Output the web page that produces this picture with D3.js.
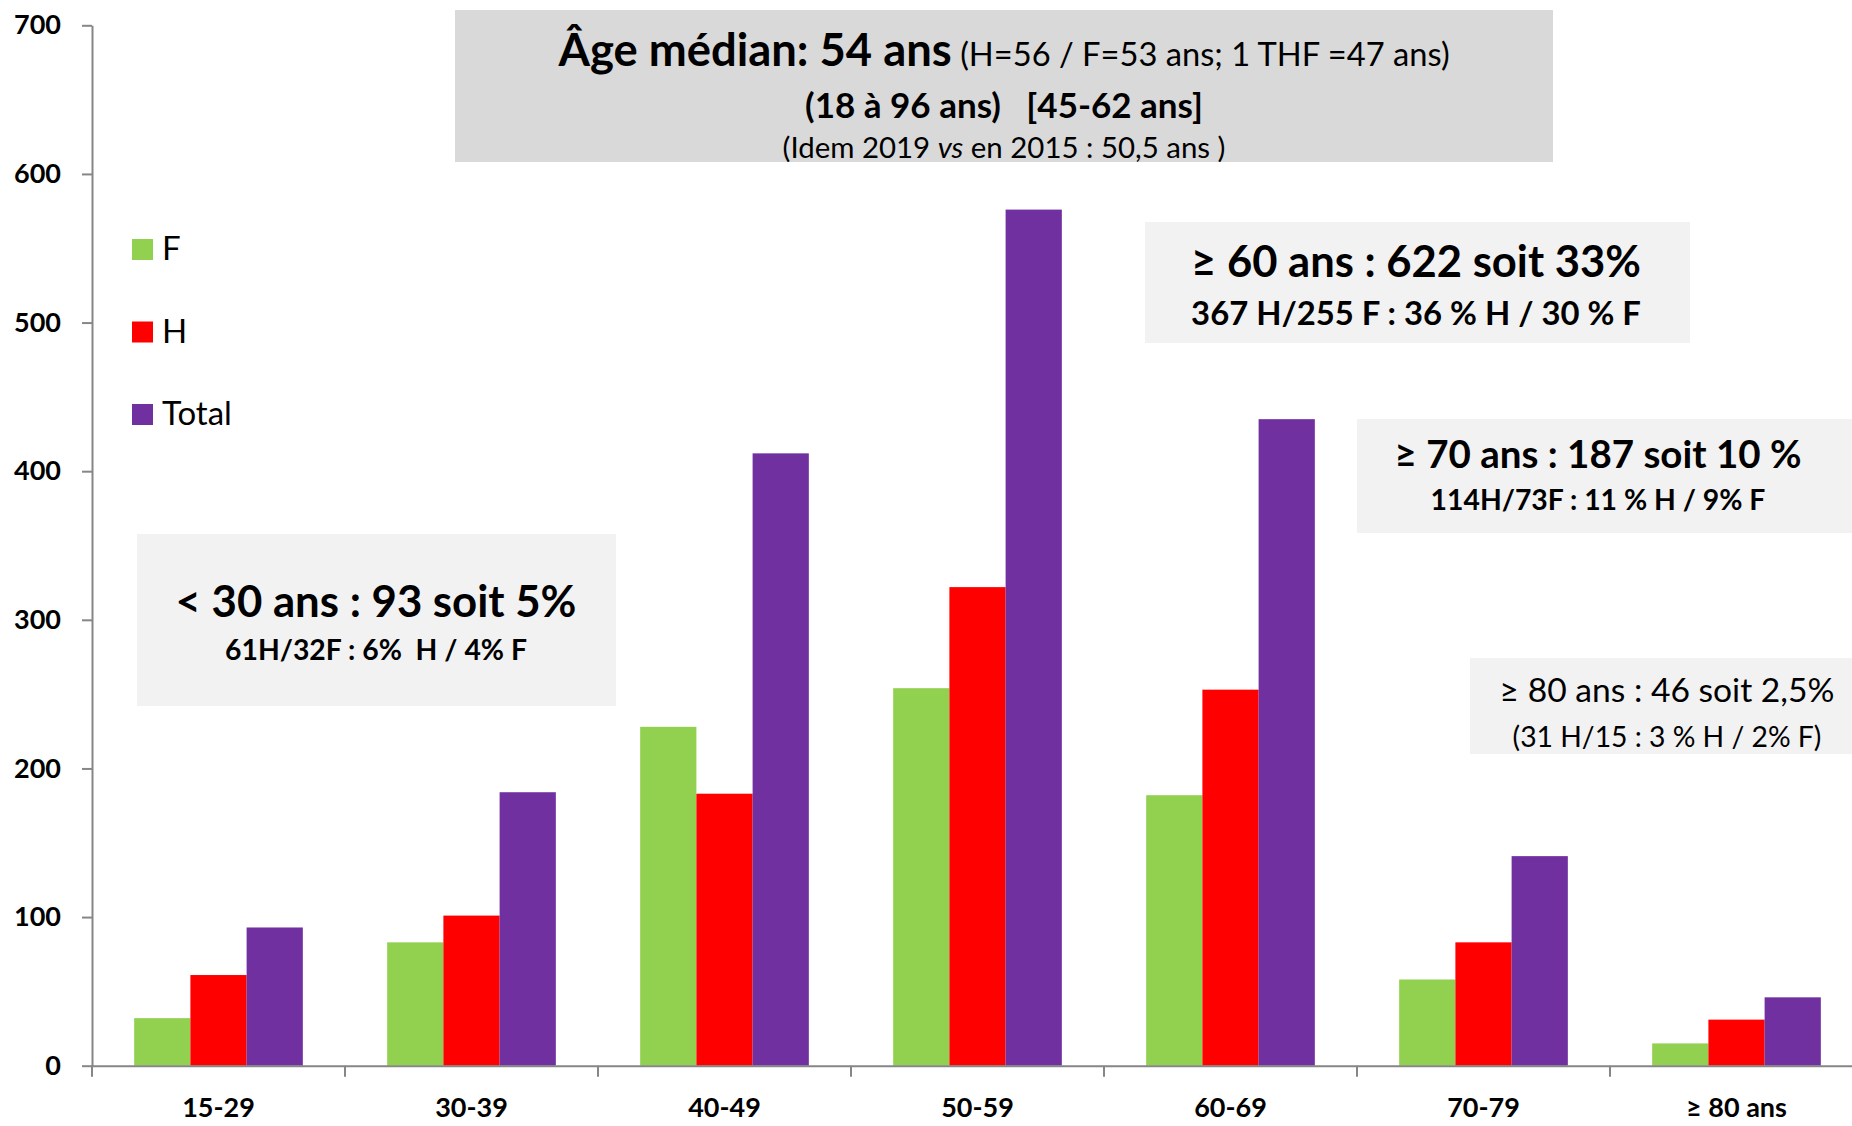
<!DOCTYPE html>
<html>
<head>
<meta charset="utf-8">
<script src="https://cdn.jsdelivr.net/npm/d3@7"></script>
<style>
  body { margin: 0; background: #fff; }
  svg { display: block; }
  text { font-family: Lato, "Noto Sans", sans-serif; fill: #000; white-space: pre; }
</style>
</head>
<body>
<svg id="chart"></svg>
<script>
// age groups and counts
let categories = ["15-29", "30-39", "40-49", "50-59", "60-69", "70-79", "≥ 80 ans"]
let seriesNames = ["F", "H", "Total"]
let valuesF = [32, 83, 228, 254, 182, 58, 15]
let valuesH = [61, 101, 183, 322, 253, 83, 31]
let valuesTotal = [93, 184, 412, 576, 435, 141, 46]
let yTicks = [0, 100, 200, 300, 400, 500, 600, 700]
let colors = ["#92d050", "#ff0000", "#7030a0"]

// annotation texts: each segment is [text, weight, size ratio, font-style]
let medianLines = [
    [["Âge médian: 54 ans", "bold", 1, "normal"], [" (H=56 / F=53 ans; 1 THF =47 ans)", "normal", 0.72, "normal"]],
    [["(18 à 96 ans)   [45-62 ans]", "bold", 1, "normal"]],
    [["(Idem 2019 ", "normal", 1, "normal"], ["vs", "normal", 1, "italic"], [" en 2015 : 50,5 ans )", "normal", 1, "normal"]]
]
let over60Lines = [
    [["≥ 60 ans : 622 soit 33%", "bold", 1, "normal"]],
    [["367 H/255 F : 36 % H / 30 % F", "bold", 1, "normal"]]
]
let over70Lines = [
    [["≥ 70 ans : 187 soit 10 %", "bold", 1, "normal"]],
    [["114H/73F : 11 % H / 9% F", "bold", 1, "normal"]]
]
let under30Lines = [
    [["< 30 ans : 93 soit 5%", "bold", 1, "normal"]],
    [["61H/32F : 6%  H / 4% F", "bold", 1, "normal"]]
]
let over80Lines = [
    [["≥ 80 ans : 46 soit 2,5%", "normal", 1, "normal"]],
    [["(31 H/15 : 3 % H / 2% F)", "normal", 1, "normal"]]
]

let width = 1852
let height = 1126
let axisGray = "#868686"

let svg = d3.select("#chart")
    .attr("width", width)
    .attr("height", height)

let X = d3.scaleBand()
    .domain(categories)
    .range([92, 92 + 7 * 253])

let bw = X.bandwidth()
let Xsub = d3.scaleBand()
    .domain(seriesNames)
    .range([bw / 6, bw * 5 / 6])

let Y = d3.scaleLinear()
    .domain([0, 700])
    .range([1065.7, 25.3])

// annotation boxes go behind the bars
function drawBox(x0, y0, x1, y1, fill) {
    svg.append("rect")
       .attr("x", x0).attr("y", y0)
       .attr("width", x1 - x0).attr("height", y1 - y0)
       .attr("fill", fill)
}

drawBox(455, 10, 1553, 162, "#d9d9d9")
drawBox(1145, 222, 1690, 343, "#f2f2f2")
drawBox(1357, 419, 1852, 533, "#f2f2f2")
drawBox(137, 534, 616, 706, "#f2f2f2")
drawBox(1470, 658, 1852, 754, "#f2f2f2")

// bars
let rows = categories.map((c, i) => {
    return { cat: c, vals: [valuesF[i], valuesH[i], valuesTotal[i]] }
})

let groups = svg.append("g")
    .selectAll("g")
    .data(rows)
    .enter()
    .append("g")
    .attr("transform", (d) => "translate(" + X(d.cat) + ",0)")

groups.selectAll("rect")
    .data((d) => d.vals.map((v, j) => ({ name: seriesNames[j], v: v, j: j })))
    .enter()
    .append("rect")
    .attr("x", (d) => Xsub(d.name))
    .attr("width", Xsub.bandwidth())
    .attr("y", (d) => Y(d.v))
    .attr("height", (d) => Y(0) - Y(d.v))
    .attr("fill", (d) => colors[d.j])

// y axis
let yAxis = svg.append("g")
    .attr("transform", "translate(92,0)")
    .call(d3.axisLeft(Y).tickValues(yTicks).tickSize(10).tickSizeOuter(0).tickPadding(21))
yAxis.selectAll("path, line").attr("stroke", axisGray).attr("stroke-width", 2)
yAxis.selectAll("text")
    .style("font-family", "Lato, sans-serif")
    .style("font-size", "27px")
    .style("font-weight", "bold")
    .attr("fill", "#000")

// x axis: labels at band centres, ticks on band edges
let xAxis = svg.append("g")
    .attr("transform", "translate(0," + Y(0) + ")")
    .call(d3.axisBottom(X).tickSize(0).tickSizeOuter(0).tickPadding(32))
xAxis.select("path").attr("stroke", axisGray).attr("stroke-width", 2)
xAxis.selectAll("text")
    .style("font-family", "Lato, sans-serif")
    .style("font-size", "27px")
    .style("font-weight", "bold")
    .attr("fill", "#000")

svg.append("g")
   .selectAll("line")
   .data(categories)
   .enter()
   .append("line")
   .attr("x1", (d) => X(d)).attr("x2", (d) => X(d))
   .attr("y1", Y(0)).attr("y2", Y(0) + 11)
   .attr("stroke", axisGray)
   .attr("stroke-width", 2)

// legend
let legend = svg.append("g")
    .selectAll("g")
    .data(seriesNames)
    .enter()
    .append("g")
    .attr("transform", (d, i) => "translate(132," + (239 + i * 82.5) + ")")
legend.append("rect")
    .attr("width", 21).attr("height", 21)
    .attr("fill", (d, i) => colors[i])
legend.append("text")
    .attr("x", 30).attr("y", 21)
    .style("font-size", "33px")
    .text((d) => d)

// annotation text, each line fitted to the width it has in the picture
function drawLines(lines, cx, baselines, widths) {
    lines.forEach((segs, i) => {
        let t = svg.append("text")
            .attr("x", cx)
            .attr("y", baselines[i])
            .attr("text-anchor", "middle")
        segs.forEach((s) => {
            t.append("tspan")
             .attr("data-r", s[2])
             .style("font-weight", s[1])
             .style("font-style", s[3])
             .style("font-size", (30 * s[2]) + "px")
             .text(s[0])
        })
        let w = t.node().getBBox().width
        let k = widths[i] / w
        t.selectAll("tspan").style("font-size", function () {
            return (30 * k * this.getAttribute("data-r")) + "px"
        })
    })
}

drawLines(medianLines, 1004, [66, 118, 158], [893, 398, 443])
drawLines(over60Lines, 1416, [277, 325], [450, 450])
drawLines(over70Lines, 1598, [468, 510], [407, 335])
drawLines(under30Lines, 376, [617, 660], [401, 302])
drawLines(over80Lines, 1667, [702, 747], [335, 309])
</script>
</body>
</html>
